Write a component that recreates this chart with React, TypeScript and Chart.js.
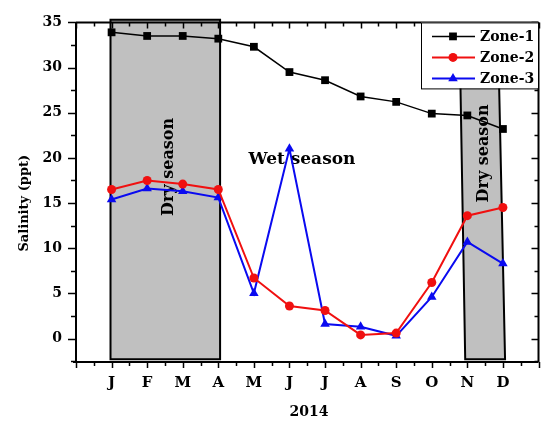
import React, { useEffect, useRef } from "react";
import { Chart, registerables } from "chart.js";

Chart.register(...registerables);

const months = ["J", "F", "M", "A", "M", "J", "J", "A", "S", "O", "N", "D"];
const zone1 = [33.9, 33.5, 33.5, 33.2, 32.3, 29.5, 28.6, 26.8, 26.2, 24.9, 24.7, 23.2];
const zone2 = [16.5, 17.5, 17.1, 16.5, 6.7, 3.6, 3.1, 0.4, 0.6, 6.2, 13.6, 14.5];
const zone3 = [15.4, 16.6, 16.3, 15.6, 5.0, 21.0, 1.6, 1.3, 0.3, 4.6, 10.7, 8.3];
const yTicks = [0, 5, 10, 15, 20, 25, 30, 35];
const seriesNames = ["Zone-1", "Zone-2", "Zone-3"];
const yearLabel = "2014";
const yTitle = "Salinity (ppt)";
// shaded season regions in data units: [topLeftX, topRightX, bottomRightX, bottomLeftX, topY, bottomY]
const drySeason1 = [-0.03, 3.05, 3.05, -0.03, 35.3, -2.3];
const drySeason2 = [9.78, 10.86, 11.06, 9.94, 34.0, -2.3];
const seasonLabels = [
  { text: "Dry season", x: 1.62, y: 19.0, rotate: true },
  { text: "Dry season", x: 10.47, y: 20.5, rotate: true },
  { text: "Wet season", x: 5.35, y: 19.8, rotate: false },
];

const FONT = "'DejaVu Serif', 'Liberation Serif', serif";

const toXY = (arr: number[]) => arr.map((v, i) => ({ x: i, y: v }));

function drawMarker(ctx: CanvasRenderingContext2D, style: string, x: number, y: number, r: number, color: string) {
  ctx.save();
  ctx.fillStyle = color;
  ctx.beginPath();
  if (style === "rect") {
    const s = Math.SQRT1_2 * r;
    ctx.rect(x - s, y - s, 2 * s, 2 * s);
  } else if (style === "circle") {
    ctx.arc(x, y, r, 0, Math.PI * 2);
  } else {
    const h = (r * 3) / 2;
    const w = r * Math.sqrt(3);
    ctx.moveTo(x, y - r);
    ctx.lineTo(x + w / 2, y - r + h);
    ctx.lineTo(x - w / 2, y - r + h);
    ctx.closePath();
  }
  ctx.fill();
  ctx.restore();
}

const decoPlugin = {
  id: "deco",
  beforeDatasetsDraw(chart: any) {
    const { ctx, scales } = chart;
    const xs = scales.x;
    const ys = scales.y;
    ctx.save();
    for (const r of [drySeason1, drySeason2]) {
      const yT = ys.getPixelForValue(r[4]);
      const yB = ys.getPixelForValue(r[5]);
      ctx.beginPath();
      ctx.moveTo(xs.getPixelForValue(r[0]), yT);
      ctx.lineTo(xs.getPixelForValue(r[1]), yT);
      ctx.lineTo(xs.getPixelForValue(r[2]), yB);
      ctx.lineTo(xs.getPixelForValue(r[3]), yB);
      ctx.closePath();
      ctx.fillStyle = "#c0c0c0";
      ctx.fill();
      ctx.strokeStyle = "#000";
      ctx.lineWidth = 2;
      ctx.stroke();
    }
    ctx.fillStyle = "#000";
    for (const l of seasonLabels) {
      const px = xs.getPixelForValue(l.x);
      const py = ys.getPixelForValue(l.y);
      ctx.save();
      ctx.translate(px, py);
      if (l.rotate) {
        ctx.rotate(-Math.PI / 2);
        ctx.font = `bold 16px ${FONT}`;
      } else {
        ctx.font = `bold 17px ${FONT}`;
      }
      ctx.textAlign = "center";
      ctx.textBaseline = "middle";
      ctx.fillText(l.text, 0, 0);
      ctx.restore();
    }
    ctx.restore();
  },
  afterDraw(chart: any) {
    const { ctx, chartArea, scales } = chart;
    const xs = scales.x;
    const ys = scales.y;
    const { left, right, top, bottom } = chartArea;
    ctx.save();
    ctx.strokeStyle = "#000";
    ctx.lineWidth = 2;
    ctx.beginPath();
    ctx.moveTo(left, top);
    ctx.lineTo(right, top);
    ctx.moveTo(left, top);
    ctx.lineTo(left, bottom + 1);
    ctx.moveTo(left - 3, bottom);
    ctx.lineTo(right, bottom);
    ctx.moveTo(right, top);
    ctx.lineTo(right, bottom);
    ctx.stroke();
    ctx.lineWidth = 1.5;
    ctx.beginPath();
    for (let v = -1; v <= 12.01; v += 0.5) {
      const px = Math.round(xs.getPixelForValue(v)) + 0.5;
      const major = Math.abs(v - Math.round(v)) < 0.01;
      ctx.moveTo(px, bottom);
      ctx.lineTo(px, bottom + (major ? 6 : 4));
      ctx.moveTo(px, top);
      ctx.lineTo(px, top + (major ? 6 : 4));
    }
    for (let v = -2.5; v <= 35.01; v += 2.5) {
      const py = Math.round(ys.getPixelForValue(v)) + 0.5;
      const major = Math.abs(v / 5 - Math.round(v / 5)) < 0.01;
      ctx.moveTo(left, py);
      ctx.lineTo(left - (major ? 8 : 5), py);
      ctx.moveTo(right, py);
      ctx.lineTo(right - (major ? 7 : 4), py);
    }
    ctx.stroke();

    ctx.fillStyle = "#000";
    ctx.save();
    ctx.translate(25, (top + bottom) / 2 + 11);
    ctx.rotate(-Math.PI / 2);
    ctx.font = `bold 13px ${FONT}`;
    ctx.textAlign = "center";
    ctx.textBaseline = "middle";
    ctx.fillText(yTitle, 0, 0);
    ctx.restore();
    ctx.font = `bold 14px ${FONT}`;
    ctx.textAlign = "center";
    ctx.textBaseline = "middle";
    ctx.fillText(yearLabel, (left + 542) / 2, bottom + 50);

    const lx = 421;
    const ly = top;
    const lw = 117;
    const lh = 66;
    ctx.fillStyle = "#fff";
    ctx.fillRect(lx, ly, lw, lh);
    ctx.lineWidth = 1;
    ctx.strokeStyle = "#000";
    ctx.strokeRect(lx + 0.5, ly + 0.5, lw, lh);
    chart.data.datasets.forEach((ds: any, i: number) => {
      const ry = ly + 14 + i * 21;
      ctx.strokeStyle = ds.borderColor;
      ctx.lineWidth = ds.borderWidth;
      ctx.beginPath();
      ctx.moveTo(lx + 11, ry);
      ctx.lineTo(lx + 54, ry);
      ctx.stroke();
      drawMarker(ctx, ds.pointStyle, lx + 32, ry, ds.pointRadius, ds.backgroundColor);
      ctx.fillStyle = "#000";
      ctx.font = `bold 14px ${FONT}`;
      ctx.textAlign = "left";
      ctx.textBaseline = "middle";
      ctx.fillText(ds.label, lx + 59, ry + 1);
    });
    ctx.restore();
  },
};

export default function App() {
  const ref = useRef<HTMLCanvasElement | null>(null);
  useEffect(() => {
    if (!ref.current) return;
    const mk = (label: string, data: number[], color: string, style: string, r: number, w: number) => ({
      label,
      data: toXY(data),
      borderColor: color,
      backgroundColor: color,
      pointBackgroundColor: color,
      pointBorderColor: color,
      pointBorderWidth: 0,
      pointStyle: style,
      pointRadius: r,
      borderWidth: w,
      tension: 0,
      fill: false,
      clip: false,
    });
    const chart = new Chart(ref.current, {
      type: "line",
      data: {
        datasets: [
          mk(seriesNames[0], zone1, "#000000", "rect", 5.5, 1.5),
          mk(seriesNames[1], zone2, "#f01010", "circle", 4.5, 2),
          mk(seriesNames[2], zone3, "#0a0af0", "triangle", 5.5, 2),
        ] as any,
      },
      options: {
        animation: false,
        responsive: false,
        maintainAspectRatio: false,
        layout: { padding: { left: 0, top: 14, right: 1, bottom: 0 } },
        plugins: { legend: { display: false }, tooltip: { enabled: false } },
        scales: {
          x: {
            type: "linear",
            min: -1,
            max: 12,
            grid: { display: false, drawTicks: false },
            border: { display: false },
            afterBuildTicks: (s: any) => {
              s.ticks = months.map((_, i) => ({ value: i }));
            },
            afterFit: (s: any) => {
              s.height = 59;
            },
            ticks: {
              autoSkip: false,
              maxRotation: 0,
              padding: 12,
              color: "#000",
              font: { family: FONT, weight: "bold", size: 15 },
              callback: (v: any) => months[Math.round(Number(v))] ?? "",
            },
          },
          y: {
            type: "linear",
            min: -2.6,
            max: 35,
            grid: { display: false, drawTicks: false },
            border: { display: false },
            afterBuildTicks: (s: any) => {
              s.ticks = yTicks.map((v) => ({ value: v }));
            },
            afterFit: (s: any) => {
              s.width = 76;
            },
            ticks: {
              padding: 14,
              color: "#000",
              font: { family: FONT, weight: "bold", size: 14 },
            },
          },
        },
      } as any,
      plugins: [decoPlugin],
    });
    return () => chart.destroy();
  }, []);
  return (
    <div
      style={{
        position: "fixed",
        left: 0,
        top: 0,
        width: 542,
        height: 421,
        overflow: "hidden",
        background: "#fff",
      }}
    >
      <canvas ref={ref} width={544} height={421} style={{ display: "block" }} />
    </div>
  );
}
